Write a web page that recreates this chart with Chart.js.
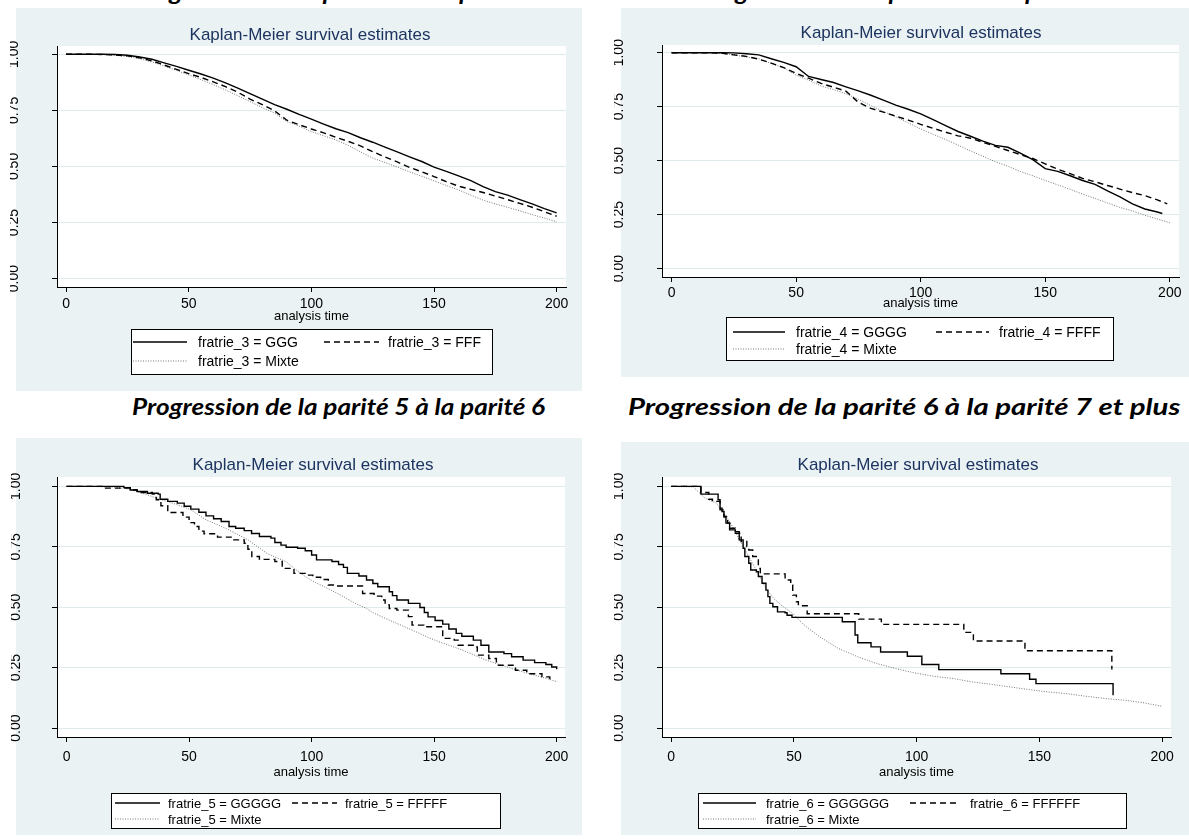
<!DOCTYPE html>
<html>
<head>
<meta charset="utf-8">
<script src="https://cdn.jsdelivr.net/npm/chart.js@4.4.1/dist/chart.umd.min.js"></script>
<style>
  body { margin: 0; width: 1189px; height: 840px; background: #fff; position: relative; overflow: hidden; }
  canvas { position: absolute; }
  .sec { position: absolute; white-space: nowrap; font-family: Lato, "Open Sans", sans-serif;
         font-weight: bold; font-style: italic; font-size: 22px; line-height: 26px; color: #000;
         transform-origin: left top; }
</style>
</head>
<body>
<div class="sec" id="s1" data-l="132" data-w="413" style="top:-21px">Progression de la parité 3 à la parité 4</div>
<div class="sec" id="s2" data-l="698" data-w="413" style="top:-21px">Progression de la parité 4 à la parité 5</div>
<div class="sec" id="s3" data-l="132" data-w="413" style="top:394px">Progression de la parité 5 à la parité 6</div>
<div class="sec" id="s4" data-l="628" data-w="552" style="top:394px">Progression de la parité 6 à la parité 7 et plus</div>
<canvas id="c1" width="595" height="400" style="left:0;top:0"></canvas>
<canvas id="c2" width="594" height="400" style="left:595px;top:0"></canvas>
<canvas id="c3" width="595" height="410" style="left:0;top:430px"></canvas>
<canvas id="c4" width="594" height="410" style="left:595px;top:430px"></canvas>
<script>
// axes communs
var xTicks = [0, 50, 100, 150, 200];
var yTicks = [0, 0.25, 0.5, 0.75, 1];
var yTickLabels = ['0.00', '0.25', '0.50', '0.75', '1.00'];

// parité 3 -> 4 (lu sur la courbe, pas de 5)
var tlTime  = [0,5,10,15,20,25,30,35,40,45,50,55,60,65,70,75,80,85,90,95,100,105,110,115,120,125,130,135,140,145,150,155,160,165,170,175,180,185,190,195,200];
var tlGGG   = [1,1,1,1,0.999,0.996,0.988,0.978,0.962,0.946,0.929,0.912,0.894,0.873,0.849,0.825,0.8,0.776,0.755,0.732,0.711,0.689,0.668,0.651,0.628,0.608,0.586,0.565,0.543,0.522,0.497,0.478,0.458,0.437,0.41,0.388,0.372,0.352,0.333,0.312,0.293];
var tlFFF   = [1,1,1,0.999,0.997,0.993,0.984,0.971,0.952,0.933,0.914,0.897,0.877,0.856,0.831,0.8,0.776,0.748,0.706,0.686,0.667,0.65,0.63,0.612,0.592,0.566,0.542,0.52,0.496,0.476,0.455,0.432,0.412,0.398,0.384,0.368,0.352,0.335,0.318,0.298,0.278];
var tlMixte = [1,1,1,0.999,0.996,0.99,0.98,0.966,0.948,0.928,0.908,0.887,0.865,0.841,0.815,0.789,0.762,0.738,0.7,0.68,0.655,0.637,0.618,0.594,0.565,0.537,0.518,0.497,0.476,0.456,0.436,0.415,0.395,0.372,0.35,0.333,0.318,0.302,0.285,0.27,0.253];

// parité 4 -> 5
var trTimeG = [0,5,10,15,20,25,30,35,40,45,50,55,60,65,70,75,80,85,90,95,100,105,110,115,120,125,130,135,140,145,150,155,160,165,170,175,180,185,190,195,197];
var trTimeF = [0,5,10,15,20,25,30,35,40,45,50,55,60,65,70,75,80,85,90,95,100,105,110,115,120,125,130,135,140,145,150,155,160,165,170,175,180,185,190,195,199];
var trTimeM = [0,5,10,15,20,25,30,35,40,45,50,55,60,65,70,75,80,85,90,95,100,105,110,115,120,125,130,135,140,145,150,155,160,165,170,175,180,185,190,195,200];
var trGGGG  = [1,1,1,1,1,0.999,0.995,0.99,0.972,0.955,0.935,0.89,0.876,0.862,0.842,0.823,0.803,0.78,0.757,0.738,0.717,0.69,0.662,0.635,0.613,0.59,0.571,0.562,0.535,0.505,0.463,0.45,0.43,0.408,0.39,0.36,0.332,0.3,0.276,0.262,0.255];
var trFFFF  = [1,1,1,1,0.998,0.99,0.983,0.97,0.952,0.931,0.904,0.882,0.858,0.84,0.822,0.77,0.742,0.725,0.706,0.688,0.668,0.65,0.632,0.615,0.604,0.585,0.566,0.547,0.528,0.51,0.485,0.46,0.44,0.418,0.402,0.385,0.368,0.352,0.338,0.318,0.3];
var trMixte = [1,1,1,1,0.997,0.99,0.98,0.972,0.95,0.93,0.896,0.873,0.846,0.829,0.81,0.784,0.755,0.728,0.703,0.675,0.647,0.622,0.598,0.572,0.545,0.52,0.495,0.474,0.45,0.43,0.408,0.388,0.367,0.345,0.325,0.304,0.283,0.267,0.247,0.23,0.212];

// parité 5 -> 6 (marches de la courbe KM)
var blTimeG = [0,23.4,26,28.8,33,37.4,38.2,41.3,45.2,48,50.7,54,56.9,60,63.1,66.3,69,72.5,75.5,78.7,83.4,85,87.5,89.6,94.3,97.4,100,102,108.3,111,113,114.6,119.3,122.4,125,127,131.7,133,134.8,139.5,144.2,146,147.5,150.4,153.5,156,159,161.3,166,169.1,172.3,178.5,181.6,186.3,191,195.6,198,200];
var blGGGGG = [1,0.995,0.985,0.979,0.972,0.968,0.947,0.938,0.931,0.918,0.906,0.893,0.878,0.866,0.855,0.834,0.827,0.817,0.805,0.793,0.786,0.768,0.757,0.748,0.744,0.734,0.716,0.696,0.689,0.677,0.665,0.64,0.629,0.613,0.598,0.585,0.564,0.548,0.53,0.516,0.499,0.478,0.46,0.445,0.43,0.41,0.392,0.38,0.364,0.343,0.315,0.308,0.295,0.281,0.271,0.263,0.253,0.243];
var blTimeF = [0,15.6,26,28.8,35,36.6,38.5,41.3,47.5,50,52.2,54,56.1,61.6,67.8,72.5,74,75.6,78.7,85,88,92.8,97.4,100.5,103.7,106.8,110,120.8,125.5,128.6,130,131.7,134.8,139.5,141,145.8,153.5,158.2,159.8,166,167.6,172.3,175.4,183.2,187.8,194,197.2];
var blFFFFF = [1,0.993,0.985,0.975,0.968,0.945,0.92,0.892,0.873,0.85,0.834,0.815,0.804,0.79,0.779,0.765,0.74,0.71,0.698,0.689,0.661,0.64,0.633,0.624,0.615,0.592,0.588,0.557,0.546,0.53,0.51,0.495,0.488,0.461,0.426,0.419,0.371,0.364,0.343,0.336,0.302,0.288,0.26,0.239,0.225,0.212,0.195];
var blTimeM = [0,10,20,25,28.8,33,38.2,45,50.7,56.9,62,66.3,70,74,78,81.8,85,89.6,93,97.4,101,105.2,109,113,117,122.4,125,128.6,132,136.4,140,144.2,148,152,156,159.8,164,167.6,171,175.4,179,183.2,187,191,196,200.3];
var blMixte = [1,1,0.997,0.99,0.979,0.965,0.947,0.925,0.903,0.862,0.84,0.82,0.8,0.779,0.75,0.723,0.708,0.689,0.66,0.627,0.605,0.585,0.565,0.544,0.52,0.495,0.478,0.461,0.445,0.426,0.41,0.391,0.373,0.357,0.343,0.329,0.312,0.297,0.282,0.267,0.255,0.242,0.23,0.219,0.205,0.191];

// parité 6 -> 7 et plus
var brTimeG  = [0,12.1,19.1,19.9,20.7,21.5,22.3,23.8,26.1,27.7,29.3,30,31.6,32.4,34.7,35.5,37,38.6,39.4,40.2,41.4,43.3,46.4,47.2,49.2,69.7,74.9,76,81.4,85.3,96.2,102.1,109,134.3,146,148.6,180];
var brGGGGGG = [1,0.968,0.945,0.91,0.896,0.873,0.848,0.82,0.813,0.779,0.744,0.71,0.682,0.654,0.647,0.627,0.599,0.571,0.544,0.516,0.502,0.481,0.477,0.467,0.458,0.44,0.385,0.353,0.336,0.315,0.297,0.263,0.242,0.225,0.202,0.184,0.136];
var brTimeF  = [0,12.1,15.3,16.8,19.9,21.5,23,23.8,26.1,28.5,30.8,31.6,33.2,34.7,35.5,36.3,46.4,48.7,49.5,51,51.8,55.4,76.4,85.6,119.2,123.1,144.1,179.5];
var brFFFFFF = [1,0.975,0.947,0.938,0.903,0.876,0.848,0.827,0.806,0.772,0.751,0.737,0.71,0.696,0.661,0.638,0.613,0.592,0.55,0.523,0.506,0.473,0.451,0.429,0.396,0.36,0.32,0.242];
var brTimeM  = [0,9,13.7,18.4,21.5,24.6,29.3,33.9,38.6,41.7,44.8,49.5,54.2,60.4,68.2,76,83.7,91.5,99.3,107.1,114.9,122.6,130.4,138.2,146,153.8,161.6,169.3,177.1,184.9,192.7,200];
var brMixte  = [1,0.998,0.952,0.931,0.889,0.841,0.751,0.668,0.578,0.537,0.509,0.474,0.426,0.378,0.329,0.295,0.267,0.246,0.228,0.214,0.205,0.191,0.181,0.17,0.159,0.149,0.142,0.131,0.122,0.115,0.104,0.09];

var BG = '#eaf2f3';
var GRID = '#dfeaec';
var NAVY = '#1d3461';
var FONT = '"Liberation Sans", Arial, sans-serif';

function xy(t, s) {
  return t.map(function (v, i) { return { x: v, y: s[i] }; });
}

// styles des trois groupes, comme dans Stata
var styles = [
  { borderColor: '#000', borderWidth: 1.4, borderDash: [] },
  { borderColor: '#000', borderWidth: 1.4, borderDash: [6, 4] },
  { borderColor: '#777', borderWidth: 1, borderDash: [1, 1.5] }
];

// fond gris-bleu du graphique + zone blanche du tracé
var panelPlugin = {
  id: 'panel',
  beforeDraw: function (chart, args, o) {
    var ctx = chart.ctx, a = chart.chartArea;
    ctx.save();
    ctx.fillStyle = BG;
    ctx.fillRect(o.bg[0], o.bg[1], o.bg[2] - o.bg[0], o.bg[3] - o.bg[1]);
    ctx.fillStyle = '#fff';
    ctx.fillRect(a.left, a.top, a.right - a.left, a.bottom - a.top);
    ctx.restore();
  },
  afterDraw: function (chart, args, o) {
    var ctx = chart.ctx, ys = chart.scales.y;
    ctx.save();
    // titre
    ctx.font = '17px ' + FONT;
    ctx.fillStyle = NAVY;
    ctx.textAlign = 'center';
    ctx.textBaseline = 'alphabetic';
    ctx.fillText('Kaplan-Meier survival estimates', o.titleX, o.titleY);
    // étiquettes verticales de l'axe y (coupées à gauche comme sur l'image)
    ctx.save();
    ctx.beginPath();
    ctx.rect(o.yclip, 0, chart.width, chart.height);
    ctx.clip();
    ctx.font = '14px ' + FONT;
    ctx.fillStyle = '#000';
    yTicks.forEach(function (v, i) {
      ctx.save();
      ctx.translate(o.ylabX, ys.getPixelForValue(v));
      ctx.rotate(-Math.PI / 2);
      ctx.fillText(yTickLabels[i], 0, 0);
      ctx.restore();
    });
    ctx.restore();
    // légende encadrée
    var L = o.legend, b = L.box;
    ctx.fillStyle = '#fff';
    ctx.fillRect(b[0], b[1], b[2] - b[0], b[3] - b[1]);
    ctx.strokeStyle = '#000';
    ctx.lineWidth = 1;
    ctx.strokeRect(b[0] + 0.5, b[1] + 0.5, b[2] - b[0], b[3] - b[1]);
    ctx.font = L.size + 'px ' + FONT;
    ctx.textAlign = 'left';
    ctx.textBaseline = 'middle';
    var slots = [[0, 0], [0, 1], [1, 0]]; // [ligne, colonne]
    chart.data.datasets.forEach(function (ds, i) {
      var row = L.rows[slots[i][0]], col = slots[i][1];
      var s = L.samples[col];
      ctx.save();
      ctx.strokeStyle = ds.borderColor;
      ctx.lineWidth = ds.borderWidth;
      ctx.setLineDash(ds.borderDash);
      ctx.beginPath();
      ctx.moveTo(s[0], row);
      ctx.lineTo(s[1], row);
      ctx.stroke();
      ctx.restore();
      ctx.fillStyle = '#000';
      ctx.fillText(ds.label, L.texts[col], row + 1);
    });
    ctx.restore();
  }
};

function makeChart(id, off, g, series) {
  var pad = {
    left: g.plot[0] - off[0] - 10,
    top: g.plot[1] - off[1],
    right: g.canvasW - (g.plot[2] - off[0]),
    bottom: g.canvasH - (g.plot[3] - off[1]) - g.xh
  };
  var opts = {
    bg: [g.bg[0] - off[0], g.bg[1] - off[1], g.bg[2] - off[0], g.bg[3] - off[1]],
    titleX: g.titleX - off[0], titleY: g.titleY - off[1],
    ylabX: g.ylabX - off[0], yclip: g.yclip - off[0],
    legend: {
      size: g.legend.size,
      box: [g.legend.box[0] - off[0], g.legend.box[1] - off[1], g.legend.box[2] - off[0], g.legend.box[3] - off[1]],
      rows: g.legend.rows.map(function (v) { return v - off[1]; }),
      samples: g.legend.samples.map(function (s) { return [s[0] - off[0], s[1] - off[0]]; }),
      texts: g.legend.texts.map(function (v) { return v - off[0]; })
    }
  };
  return new Chart(document.getElementById(id), {
    type: 'line',
    data: {
      datasets: series.map(function (s, i) {
        return Object.assign({
          label: s.label,
          data: xy(s.t, s.v),
          stepped: s.step ? 'before' : false,
          pointRadius: 0,
          fill: false,
          tension: 0
        }, styles[i]);
      })
    },
    options: {
      responsive: false,
      animation: false,
      devicePixelRatio: 1,
      layout: { padding: pad },
      plugins: { legend: { display: false }, tooltip: { enabled: false }, title: { display: false }, panel: opts },
      scales: {
        x: {
          type: 'linear', min: g.xr[0], max: g.xr[1],
          afterBuildTicks: function (s) { s.ticks = xTicks.map(function (v) { return { value: v }; }); },
          afterFit: function (s) { s.height = g.xh; },
          grid: { drawOnChartArea: false, tickColor: '#000', tickLength: 5 },
          border: { color: '#000', width: 1 },
          ticks: { color: '#000', font: { family: FONT, size: 14, lineHeight: 1 }, padding: g.tickPad, maxRotation: 0 },
          title: { display: true, text: 'analysis time', color: '#000', font: { family: FONT, size: 13, lineHeight: 1 }, padding: 0 }
        },
        y: {
          type: 'linear', min: g.yr[0], max: g.yr[1],
          afterBuildTicks: function (s) { s.ticks = yTicks.map(function (v) { return { value: v }; }); },
          afterFit: function (s) { s.width = 10; },
          grid: { color: GRID, lineWidth: 1, tickColor: '#000', tickLength: 5 },
          border: { color: '#000', width: 1 },
          ticks: { display: false }
        }
      }
    },
    plugins: [panelPlugin]
  });
}

makeChart('c1', [0, 0], {
  canvasW: 595, canvasH: 400, bg: [16, 8, 582, 391], plot: [57, 46, 566, 287],
  xr: [-3.7, 203.8], yr: [-0.0375, 1.037], xh: 36, tickPad: 5,
  titleX: 310, titleY: 40, ylabX: 18, yclip: 10,
  legend: { size: 14, box: [131, 329, 492, 374], rows: [342, 361], samples: [[133, 187], [324, 379]], texts: [198, 388] }
}, [
  { label: 'fratrie_3 = GGG', t: tlTime, v: tlGGG },
  { label: 'fratrie_3 = FFF', t: tlTime, v: tlFFF },
  { label: 'fratrie_3 = Mixte', t: tlTime, v: tlMixte }
]);

makeChart('c2', [595, 0], {
  canvasW: 594, canvasH: 400, bg: [621, 8, 1189, 377], plot: [662, 45, 1179, 277],
  xr: [-3.85, 203.7], yr: [-0.039, 1.0357], xh: 33, tickPad: 4,
  titleX: 921, titleY: 38, ylabX: 623, yclip: 614,
  legend: { size: 14, box: [726, 317, 1113, 360], rows: [332, 349], samples: [[733, 785], [936, 989]], texts: [796, 999] }
}, [
  { label: 'fratrie_4 = GGGG', t: trTimeG, v: trGGGG },
  { label: 'fratrie_4 = FFFF', t: trTimeF, v: trFFFF },
  { label: 'fratrie_4 = Mixte', t: trTimeM, v: trMixte }
]);

makeChart('c3', [0, 430], {
  canvasW: 595, canvasH: 410, bg: [16, 438, 582, 835], plot: [57, 477, 565, 737],
  xr: [-3.9, 203.4], yr: [-0.037, 1.039], xh: 42, tickPad: 8,
  titleX: 313, titleY: 470, ylabX: 20, yclip: 11,
  legend: { size: 13, box: [111, 793, 500, 828], rows: [803, 819], samples: [[115, 160], [292, 337]], texts: [168, 345] }
}, [
  { label: 'fratrie_5 = GGGGG', t: blTimeG, v: blGGGGG, step: true },
  { label: 'fratrie_5 = FFFFF', t: blTimeF, v: blFFFFF, step: true },
  { label: 'fratrie_5 = Mixte', t: blTimeM, v: blMixte }
]);

makeChart('c4', [595, 430], {
  canvasW: 594, canvasH: 410, bg: [621, 442, 1189, 835], plot: [662, 477, 1171, 737],
  xr: [-3.75, 203.6], yr: [-0.037, 1.039], xh: 42, tickPad: 8,
  titleX: 918, titleY: 470, ylabX: 623, yclip: 614,
  legend: { size: 13, box: [698, 793, 1126, 828], rows: [803, 819], samples: [[703, 756], [910, 960]], texts: [766, 970] }
}, [
  { label: 'fratrie_6 = GGGGGG', t: brTimeG, v: brGGGGGG, step: true },
  { label: 'fratrie_6 = FFFFFF', t: brTimeF, v: brFFFFFF, step: true },
  { label: 'fratrie_6 = Mixte', t: brTimeM, v: brMixte }
]);

// titres de section (Calibri gras italique dans l'original) : ajustés en largeur
document.querySelectorAll('.sec').forEach(function (el) {
  var w = el.offsetWidth;
  el.style.left = el.getAttribute('data-l') + 'px';
  el.style.transform = 'scaleX(' + (el.getAttribute('data-w') / w) + ')';
});
</script>
</body>
</html>
